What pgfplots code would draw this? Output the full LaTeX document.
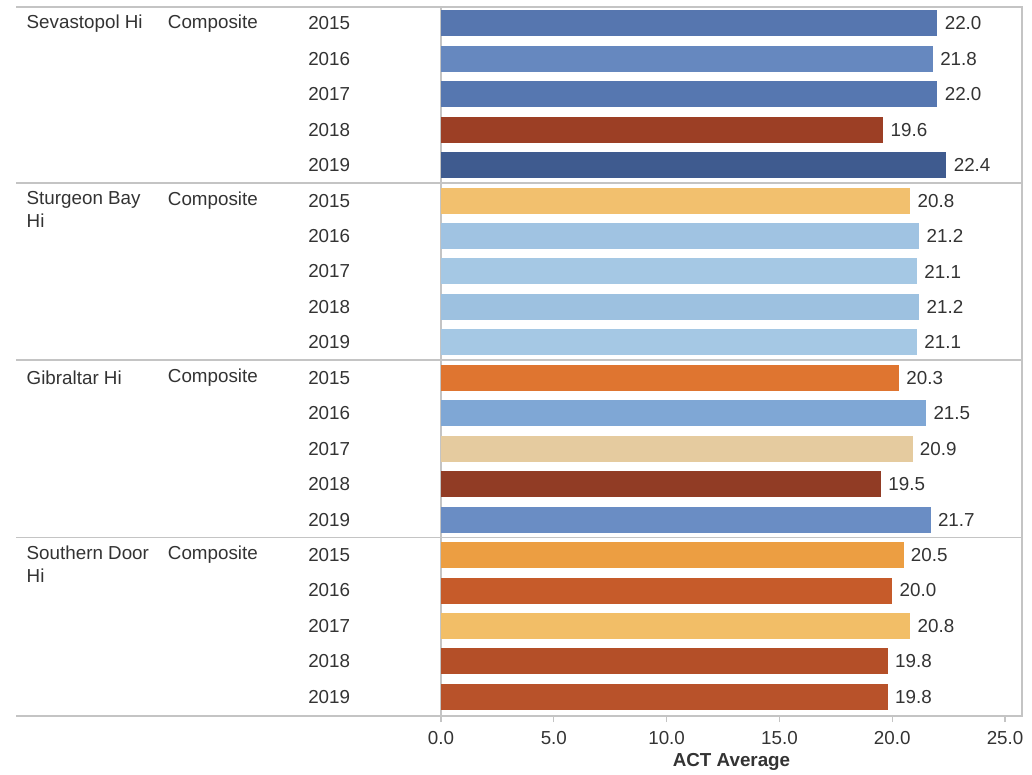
\documentclass[border=0pt]{standalone}
\usepackage{pgfplots}
\pgfplotsset{compat=1.18}
\usepackage{fontspec}
\setmainfont{Liberation Sans}

\definecolor{txt}{HTML}{333333}
\definecolor{rule}{HTML}{C4C4C4}
% bar colours, one per row
\definecolor{sA}{HTML}{5676AF}
\definecolor{sB}{HTML}{6688BF}
\definecolor{sC}{HTML}{5677B0}
\definecolor{sD}{HTML}{9C3F25}
\definecolor{sE}{HTML}{3F5B8F}
\definecolor{tA}{HTML}{F2C06E}
\definecolor{tB}{HTML}{A0C3E2}
\definecolor{tC}{HTML}{A5C8E4}
\definecolor{tD}{HTML}{9DC1E0}
\definecolor{tE}{HTML}{A5C8E4}
\definecolor{gA}{HTML}{DF7530}
\definecolor{gB}{HTML}{7FA7D5}
\definecolor{gC}{HTML}{E5CB9F}
\definecolor{gD}{HTML}{913C25}
\definecolor{gE}{HTML}{6A8DC4}
\definecolor{dA}{HTML}{EC9E42}
\definecolor{dB}{HTML}{C65B2A}
\definecolor{dC}{HTML}{F2BE67}
\definecolor{dD}{HTML}{B44F28}
\definecolor{dE}{HTML}{B8522A}

\newcommand{\lblfont}{\fontsize{9.4}{11.5}\selectfont}
\tikzset{lbl/.style={anchor=west, inner sep=0pt, text=txt, font=\lblfont}}

\begin{document}
\begin{tikzpicture}
\useasboundingbox (0,0) rectangle (516pt,387.5pt);
\begin{axis}[
    at={(220.5pt,29.5pt)}, anchor=south west,
    scale only axis, width=290.5pt, height=354.5pt,
    xmin=0, xmax=25.75, ymin=0.54, ymax=20.54,
    y dir=reverse,
    xbar, bar width=13pt, bar shift=0pt,
    clip=false,
    axis line style={draw=rule, line width=0.8pt},
    xtick={0,5,10,15,20,25},
    xtick pos=bottom, xtick align=outside,
    major tick length=3pt,
    tick style={draw=rule, line width=0.6pt},
    ytick=\empty,
    /pgf/number format/assume math mode=true,
    xticklabel={\pgfmathprintnumber[fixed,fixed zerofill,precision=1]{\tick}},
    xticklabel style={font=\lblfont, text=txt, yshift=-1pt},
    xlabel={\textbf{ACT Average}},
    xlabel style={font=\lblfont, text=txt, yshift=2.5pt},
    nodes near coords,
    nodes near coords style={font=\lblfont, text=txt, anchor=west, inner sep=0pt, xshift=3.5pt},
    point meta=explicit symbolic,
]
% Sevastopol Hi
\addplot[fill=sA, draw=none] coordinates {(22.0,1) [22.0]};
\addplot[fill=sB, draw=none] coordinates {(21.8,2) [21.8]};
\addplot[fill=sC, draw=none] coordinates {(22.0,3) [22.0]};
\addplot[fill=sD, draw=none] coordinates {(19.6,4) [19.6]};
\addplot[fill=sE, draw=none] coordinates {(22.4,5) [22.4]};
% Sturgeon Bay Hi
\addplot[fill=tA, draw=none] coordinates {(20.8,6) [20.8]};
\addplot[fill=tB, draw=none] coordinates {(21.2,7) [21.2]};
\addplot[fill=tC, draw=none] coordinates {(21.1,8) [21.1]};
\addplot[fill=tD, draw=none] coordinates {(21.2,9) [21.2]};
\addplot[fill=tE, draw=none] coordinates {(21.1,10) [21.1]};
% Gibraltar Hi
\addplot[fill=gA, draw=none] coordinates {(20.3,11) [20.3]};
\addplot[fill=gB, draw=none] coordinates {(21.5,12) [21.5]};
\addplot[fill=gC, draw=none] coordinates {(20.9,13) [20.9]};
\addplot[fill=gD, draw=none] coordinates {(19.5,14) [19.5]};
\addplot[fill=gE, draw=none] coordinates {(21.7,15) [21.7]};
% Southern Door Hi
\addplot[fill=dA, draw=none] coordinates {(20.5,16) [20.5]};
\addplot[fill=dB, draw=none] coordinates {(20.0,17) [20.0]};
\addplot[fill=dC, draw=none] coordinates {(20.8,18) [20.8]};
\addplot[fill=dD, draw=none] coordinates {(19.8,19) [19.8]};
\addplot[fill=dE, draw=none] coordinates {(19.8,20) [19.8]};

% table rules
\foreach \r in {0.54,5.5,10.5,15.5,20.54}{
  \edef\tmp{\noexpand\draw[rule, line width=0.8pt] (axis cs:-18.83,\r) -- (axis cs:25.75,\r);}\tmp
}
% year column
\foreach \row/\yr in {1/2015,2/2016,3/2017,4/2018,5/2019,6/2015,7/2016,8/2017,9/2018,10/2019,
                      11/2015,12/2016,13/2017,14/2018,15/2019,16/2015,17/2016,18/2017,19/2018,20/2019}{
  \edef\tmp{\noexpand\node[lbl] at (axis cs:-5.9,\row) {\yr};}\tmp
}
\foreach \row in {1,6,11,16}{
  \edef\tmp{\noexpand\node[lbl] at (axis cs:-12.12,\row) {Composite};}\tmp
}
\node[lbl] at (axis cs:-18.38,1) {Sevastopol Hi};
\node[lbl, anchor=north west, align=left] at (axis cs:-18.38,5.72) {Sturgeon Bay\\Hi};
\node[lbl] at (axis cs:-18.38,11) {Gibraltar Hi};
\node[lbl, anchor=north west, align=left] at (axis cs:-18.38,15.72) {Southern Door\\Hi};
\end{axis}
\end{tikzpicture}
\end{document}
